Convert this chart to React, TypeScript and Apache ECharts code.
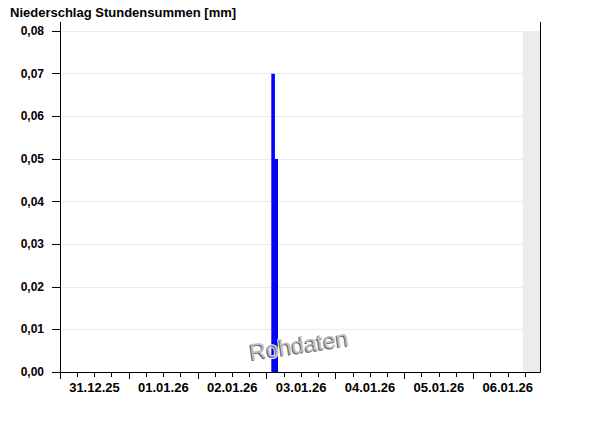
import React, { useEffect, useRef } from "react";
import * as echarts from "echarts";

// ---- data ----
const title = "Niederschlag Stundensummen [mm]";
const xStart = Date.UTC(2025, 11, 31, 0, 0); // 31.12.25 00:00
const xEnd = Date.UTC(2026, 0, 6, 23, 14); // end of visible range
const nowTime = Date.UTC(2026, 0, 6, 17, 15); // start of grey (future) band
const dayTicks = [
  Date.UTC(2025, 11, 31), Date.UTC(2026, 0, 1), Date.UTC(2026, 0, 2),
  Date.UTC(2026, 0, 3), Date.UTC(2026, 0, 4), Date.UTC(2026, 0, 5), Date.UTC(2026, 0, 6),
];
const HOUR = 3600 * 1000;
const labelTimes = dayTicks.map((t) => t + 12 * HOUR);
const quarterTicks = dayTicks.flatMap((t) => [t, t + 6 * HOUR, t + 12 * HOUR, t + 18 * HOUR]);
const rainTimes = [Date.UTC(2026, 0, 3, 2, 15), Date.UTC(2026, 0, 3, 3, 20)];
const rainValues = [0.07, 0.05];
const yTicks = [0, 0.01, 0.02, 0.03, 0.04, 0.05, 0.06, 0.07, 0.08];
const watermark = "Rohdaten";

const pad = (n: number) => (n < 10 ? "0" + n : "" + n);
const fmtDate = (v: number) => {
  const d = new Date(v);
  return pad(d.getUTCDate()) + "." + pad(d.getUTCMonth() + 1) + "." + pad(d.getUTCFullYear() % 100);
};

export default function App() {
  const ref = useRef<HTMLDivElement>(null);
  useEffect(() => {
    if (!ref.current) return;
    document.body.style.margin = "0";
    const chart = echarts.init(ref.current, undefined, { renderer: "svg" });
    const font = "'Liberation Sans', Arial, sans-serif";
    const gridLeft = 60, gridRight = 60, gridTop = 31, gridBottom = 54;
    const W = 600;
    const xR = W - gridRight;
    const wmX = 299, wmY = 345, wmRot = 0.147, wmSize = 23;
    chart.setOption({
      animation: false,
      backgroundColor: "#fff",
      title: {
        text: title,
        left: 5,
        top: 1,
        textStyle: { fontFamily: font, fontSize: 13, fontWeight: "bold", color: "#000" },
      },
      grid: { left: gridLeft, right: gridRight, top: gridTop, bottom: gridBottom, containLabel: false },
      xAxis: [
        {
          type: "value",
          min: xStart,
          max: xEnd,
          position: "bottom",
          axisLine: { show: true, onZero: false, lineStyle: { color: "#000", width: 1 } },
          axisTick: { show: true, length: 7, customValues: dayTicks, lineStyle: { color: "#000" } },
          axisLabel: {
            show: true,
            customValues: labelTimes,
            formatter: (v: number) => fmtDate(v),
            fontFamily: font,
            fontSize: 13,
            fontWeight: "bold",
            color: "#000",
            margin: 9,
          },
          splitLine: { show: false },
        },
        {
          type: "value",
          min: xStart,
          max: xEnd,
          position: "bottom",
          offset: 0,
          axisLine: { show: false, onZero: false },
          axisTick: { show: true, length: 5, customValues: quarterTicks, lineStyle: { color: "#000" } },
          axisLabel: { show: false },
          splitLine: { show: false },
        },
      ],
      yAxis: [
        {
          type: "value",
          min: 0,
          max: 0.08,
          interval: 0.01,
          position: "left",
          axisLine: { show: true, onZero: false, lineStyle: { color: "#000", width: 1 } },
          axisTick: { show: true, length: 8, lineStyle: { color: "#000" } },
          axisLabel: {
            formatter: (v: number) => v.toFixed(2).replace(".", ","),
            fontFamily: font,
            fontSize: 12,
            fontWeight: "bold",
            color: "#000",
            margin: 16,
            padding: [6, 0, 0, 0],
            customValues: yTicks,
          },
          splitLine: { show: true, lineStyle: { color: "#ebebeb", width: 1 } },
        },
        {
          type: "value",
          min: 0,
          max: 0.08,
          interval: 0.01,
          position: "right",
          axisLine: { show: true, onZero: false, lineStyle: { color: "#000", width: 1 } },
          axisTick: { show: false },
          axisLabel: { show: false },
          splitLine: { show: false },
        },
      ],
      series: [
        {
          type: "bar",
          xAxisIndex: 0,
          yAxisIndex: 0,
          data: rainTimes.map((t, i) => [t, rainValues[i]]),
          barWidth: 3.6,
          itemStyle: { color: "#0000ff" },
          markArea: {
            silent: true,
            itemStyle: { color: "#ececec" },
            data: [[{ xAxis: nowTime }, { xAxis: xEnd }]],
          },
          z: 3,
        },
      ],
      graphic: [
        {
          type: "line",
          shape: { x1: gridLeft + 0.5, y1: 22, x2: gridLeft + 0.5, y2: gridTop },
          style: { stroke: "#000", lineWidth: 1 },
        },
        {
          type: "line",
          shape: { x1: xR + 0.5, y1: 22, x2: xR + 0.5, y2: gridTop },
          style: { stroke: "#000", lineWidth: 1 },
        },
        {
          type: "text",
          x: wmX - 1,
          y: wmY + 1,
          rotation: wmRot,
          z: 100,
          style: {
            text: watermark,
            x: 0,
            y: 0,
            align: "center",
            verticalAlign: "middle",
            fontFamily: font,
            fontSize: wmSize,
            fill: "#606060",
            stroke: "#ffffff",
            lineWidth: 2,
          },
        },
        {
          type: "text",
          x: wmX,
          y: wmY,
          rotation: wmRot,
          z: 101,
          style: {
            text: watermark,
            x: 0,
            y: 0,
            align: "center",
            verticalAlign: "middle",
            fontFamily: font,
            fontSize: wmSize,
            fill: "#bdbdbd",
          },
        },
      ],
    });
    return () => chart.dispose();
  }, []);
  return <div ref={ref} style={{ width: 600, height: 426 }} />;
}
